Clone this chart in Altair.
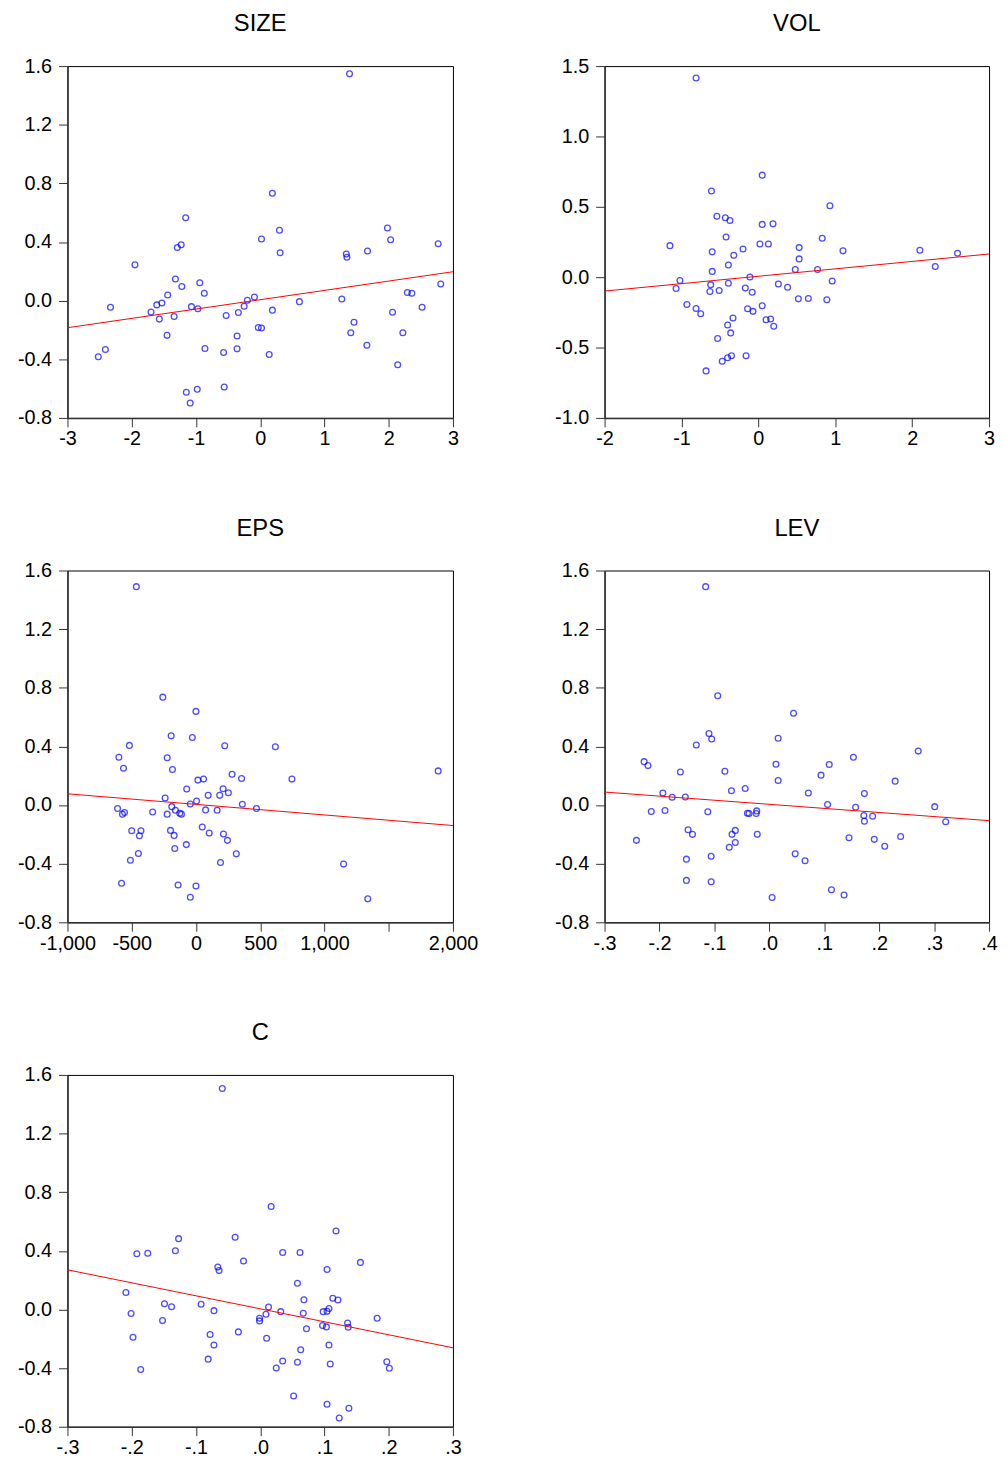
import altair as alt
import pandas as pd

FONT = "Liberation Sans"

# ---------------- data ----------------
size_x = [1.39, 0.19, -1.16, 0.30, 1.98, 0.02, 2.03, 2.77, -1.23, -1.29,
          1.34, 1.35, 1.67, 0.31, -1.95, -1.32, -0.94, -1.22, 2.81, -0.87,
          -1.44, -0.09, 2.29, 2.36, 1.27, -0.20, 0.61, -2.33, -1.61, -1.53,
          -1.70, -1.57, -1.34, -1.07, -0.97, -0.25, -0.53, -0.34, 0.19, 2.52,
          2.06, 1.46, -0.03, 0.02, -1.45, -0.36, 1.41, 2.22, -2.41, -2.52,
          -0.86, -0.36, -0.57, 0.14, 1.66, 2.14, -1.15, -0.98, -0.56, -1.09]
size_y = [1.547, 0.733, 0.566, 0.480, 0.496, 0.420, 0.415, 0.388, 0.381, 0.363,
          0.318, 0.296, 0.338, 0.327, 0.244, 0.147, 0.122, 0.097, 0.113, 0.050,
          0.038, 0.025, 0.056, 0.050, 0.011, 0.002, -0.007, -0.045, -0.029, -0.016,
          -0.077, -0.126, -0.108, -0.041, -0.056, -0.038, -0.102, -0.081, -0.065, -0.045,
          -0.079, -0.147, -0.183, -0.187, -0.237, -0.241, -0.219, -0.219, -0.334, -0.383,
          -0.327, -0.329, -0.354, -0.368, -0.305, -0.438, -0.625, -0.605, -0.589, -0.699]

vol_x = [-0.81, 0.05, -0.61, 0.93, -0.54, -0.43, -0.37, 0.05, 0.19, -0.42,
         0.83, -1.15, 0.02, 0.13, -0.20, 0.53, -0.60, 1.10, 2.10, 2.59,
         -0.32, 0.53, -0.39, 2.30, 0.48, 0.77, -0.60, -0.11, -1.02, 0.96,
         -0.62, -0.39, 0.26, 0.38, -1.07, -0.17, -0.63, -0.51, -0.08, 0.52,
         0.65, 0.89, -0.93, 0.05, -0.81, -0.14, -0.07, -0.75, -0.33, 0.10,
         0.16, -0.40, 0.20, -0.36, -0.53, -0.16, -0.35, -0.40, -0.47, -0.68]
vol_y = [1.415, 0.725, 0.612, 0.508, 0.433, 0.422, 0.403, 0.375, 0.379, 0.285,
         0.276, 0.224, 0.236, 0.236, 0.200, 0.210, 0.180, 0.187, 0.191, 0.170,
         0.156, 0.130, 0.086, 0.076, 0.055, 0.055, 0.041, 0.001, -0.023, -0.027,
         -0.053, -0.043, -0.048, -0.072, -0.081, -0.077, -0.102, -0.095, -0.107, -0.154,
         -0.152, -0.161, -0.194, -0.203, -0.222, -0.224, -0.243, -0.260, -0.290, -0.302,
         -0.297, -0.340, -0.349, -0.396, -0.436, -0.558, -0.558, -0.573, -0.598, -0.666]

eps_x = [-464, -258, 0, -193, -28, -518, 224, 618, -600, -224,
         -564, -183, 1885, 281, 355, 747, 15, 59, -72, 211,
         252, 95, 185, -240, 5, -44, 361, -188, -610, 471,
         -160, 75, 165, -337, -556, -572, -224, -126, -113, 49,
         -500, -428, -198, 103, 214, -440, -170, 245, -75, -165,
         -448, 314, -510, 191, 1149, -579, -139, 0, -44, 1337]
eps_y = [1.490, 0.736, 0.639, 0.472, 0.461, 0.407, 0.404, 0.398, 0.326, 0.323,
         0.251, 0.242, 0.233, 0.210, 0.181, 0.177, 0.170, 0.177, 0.109, 0.111,
         0.084, 0.066, 0.066, 0.048, 0.028, 0.007, 0.005, -0.011, -0.024, -0.024,
         -0.035, -0.033, -0.035, -0.047, -0.051, -0.062, -0.062, -0.056, -0.062, -0.150,
         -0.175, -0.175, -0.173, -0.191, -0.198, -0.209, -0.207, -0.241, -0.270, -0.297,
         -0.331, -0.333, -0.376, -0.392, -0.403, -0.534, -0.545, -0.552, -0.629, -0.640]

lev_x = [-0.116, -0.094, 0.044, -0.110, -0.105, 0.016, -0.133, 0.271, 0.153, -0.228,
         -0.221, 0.012, 0.109, -0.162, -0.081, 0.094, 0.016, 0.229, -0.044, -0.069,
         -0.194, 0.071, 0.173, -0.177, -0.153, 0.106, 0.157, 0.301, -0.215, -0.190,
         -0.112, -0.023, -0.040, -0.037, -0.024, 0.172, 0.188, 0.173, 0.321, -0.148,
         -0.062, -0.140, -0.068, -0.022, 0.239, 0.145, -0.242, 0.191, -0.062, -0.073,
         0.210, 0.047, -0.106, 0.065, -0.151, -0.151, -0.106, 0.113, 0.136, 0.005]
lev_y = [1.490, 0.745, 0.626, 0.488, 0.450, 0.456, 0.409, 0.368, 0.326, 0.296,
         0.269, 0.278, 0.276, 0.226, 0.231, 0.204, 0.168, 0.163, 0.113, 0.098,
         0.082, 0.082, 0.078, 0.053, 0.055, 0.003, -0.015, -0.011, -0.044, -0.037,
         -0.046, -0.040, -0.056, -0.058, -0.058, -0.071, -0.076, -0.110, -0.114, -0.168,
         -0.173, -0.200, -0.200, -0.200, -0.214, -0.223, -0.241, -0.234, -0.256, -0.288,
         -0.281, -0.333, -0.349, -0.380, -0.369, -0.514, -0.523, -0.578, -0.614, -0.631]

c_x = [-0.059, 0.017, 0.118, -0.127, -0.039, -0.132, -0.192, -0.175, 0.035, 0.062,
       -0.026, 0.156, -0.066, -0.064, 0.104, 0.058, -0.209, 0.113, 0.121, 0.068,
       -0.149, -0.092, -0.138, 0.013, 0.107, -0.072, 0.032, 0.098, 0.104, -0.201,
       0.067, 0.009, -0.001, -0.001, 0.182, -0.152, 0.136, 0.097, 0.103, 0.137,
       0.072, -0.034, -0.078, -0.198, 0.010, -0.072, 0.107, 0.063, -0.081, 0.035,
       0.058, 0.197, 0.109, 0.025, 0.201, -0.186, 0.052, 0.104, 0.138, 0.123]
c_y = [1.508, 0.702, 0.535, 0.483, 0.492, 0.400, 0.380, 0.384, 0.389, 0.389,
       0.330, 0.321, 0.289, 0.265, 0.273, 0.179, 0.116, 0.077, 0.064, 0.066,
       0.039, 0.035, 0.019, 0.016, 0.007, -0.008, -0.015, -0.015, -0.013, -0.028,
       -0.026, -0.033, -0.060, -0.078, -0.060, -0.076, -0.092, -0.110, -0.119, -0.121,
       -0.132, -0.153, -0.171, -0.189, -0.196, -0.243, -0.243, -0.275, -0.339, -0.351,
       -0.360, -0.357, -0.372, -0.399, -0.401, -0.410, -0.590, -0.647, -0.674, -0.741]

# axis tick values
y_ticks_std = [-0.8, -0.4, 0.0, 0.4, 0.8, 1.2, 1.6]
y_ticks_vol = [-1.0, -0.5, 0.0, 0.5, 1.0, 1.5]
x_ticks_size = [-3, -2, -1, 0, 1, 2, 3]
x_ticks_vol = [-2, -1, 0, 1, 2, 3]
x_ticks_eps = [-1000, -500, 0, 500, 1000, 1500, 2000]
x_ticks_lev = [-0.3, -0.2, -0.1, 0.0, 0.1, 0.2, 0.3, 0.4]
x_ticks_c = [-0.3, -0.2, -0.1, 0.0, 0.1, 0.2, 0.3]

SIGN = "(datum.value < 0 ? '-' : '')"
LBL_INT = SIGN + " + format(abs(datum.value), 'd')"
LBL_1F = SIGN + " + format(abs(datum.value), '.1f')"
LBL_DOT = SIGN + " + replace(format(abs(datum.value), '.1f'), '0.', '.')"
LBL_EPS = "datum.value == 1500 ? '' : " + SIGN + " + format(abs(datum.value), ',')"


def panel(title, xs, ys, xdom, xticks, xlbl, ydom, yticks, width):
    df = pd.DataFrame({"x": xs, "y": ys})
    xenc = alt.X(
        "x:Q",
        scale=alt.Scale(domain=xdom, nice=False, zero=False),
        axis=alt.Axis(values=xticks, labelExpr=xlbl, title=None, labelFlush=False,
                      labelOverlap=False, labelPadding=2, grid=False),
    )
    yenc = alt.Y(
        "y:Q",
        scale=alt.Scale(domain=ydom, nice=False, zero=False),
        axis=alt.Axis(values=yticks, labelExpr=LBL_1F, title=None, labelFlush=False,
                      labelOverlap=False, labelPadding=7, grid=False),
    )
    pts = alt.Chart(df).mark_point(
        shape="circle", filled=False, color="#0000FF", size=34, strokeWidth=1.3
    ).encode(x=xenc, y=yenc)
    line = alt.Chart(df).transform_regression(
        "x", "y", extent=xdom
    ).mark_line(color="#FF0000", strokeWidth=1).encode(x="x:Q", y="y:Q")
    return alt.layer(pts, line).properties(
        width=width,
        height=355,
        title=alt.TitleParams(title, fontSize=24, font=FONT, fontWeight="normal",
                              color="black", baseline="alphabetic", offset=1),
    )


p_size = panel("SIZE", size_x, size_y, [-3, 3], x_ticks_size, LBL_INT, [-0.8, 1.6], y_ticks_std, 389)
p_vol = panel("VOL", vol_x, vol_y, [-2, 3], x_ticks_vol, LBL_INT, [-1.0, 1.5], y_ticks_vol, 388)
p_eps = panel("EPS", eps_x, eps_y, [-1000, 2000], x_ticks_eps, LBL_EPS, [-0.8, 1.6], y_ticks_std, 389)
p_lev = panel("LEV", lev_x, lev_y, [-0.3, 0.4], x_ticks_lev, LBL_DOT, [-0.8, 1.6], y_ticks_std, 388)
p_c = panel("C", c_x, c_y, [-0.3, 0.3], x_ticks_c, LBL_DOT, [-0.8, 1.6], y_ticks_std, 389)

chart = alt.concat(
    p_size, p_vol, p_eps, p_lev, p_c,
    columns=2, spacing={"row": 154, "column": 153}, bounds="flush",
).properties(
    background="white",
    padding={"left": 9, "top": -3, "right": 0, "bottom": 0},
).configure_view(
    stroke="black", strokeWidth=1
).configure_axis(
    domainColor="#333333", domainWidth=1.5, tickColor="#333333", tickSize=9,
    tickWidth=1, labelFont=FONT, labelFontSize=20, labelColor="black", grid=False,
)

chart.save("out.html", embed_options={"renderer": "svg", "actions": False})
